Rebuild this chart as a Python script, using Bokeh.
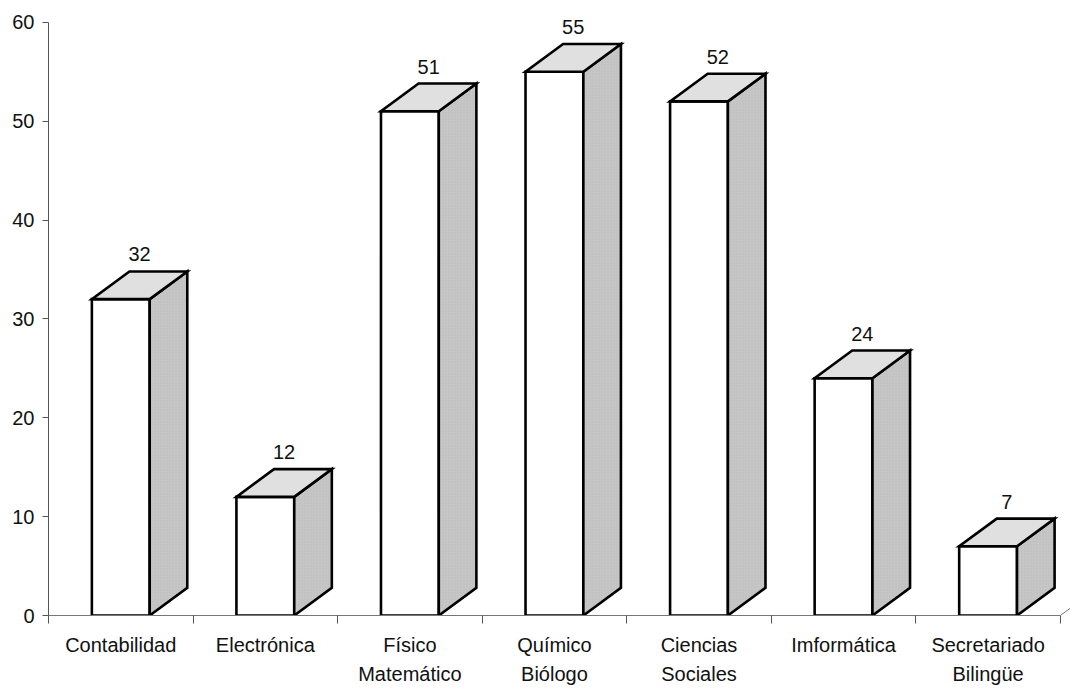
from bokeh.plotting import figure
from bokeh.models import Range1d, FixedTicker, ColumnDataSource
from bokeh.core.properties import value
from bokeh.embed import file_html
from bokeh.resources import INLINE

# ---- data ----
categories = ["Contabilidad", "Electrónica", "Físico\nMatemático", "Químico\nBiólogo",
              "Ciencias\nSociales", "Imformática", "Secretariado\nBilingüe"]
values = [32, 12, 51, 55, 52, 24, 7]
y_ticks = [0, 10, 20, 30, 40, 50, 60]

# ---- geometry (style) ----
bar_w = 0.40      # front face width (category units)
dx = 0.26         # depth offset in x (category units)
dy = 2.8          # depth offset in y (value units)

centers = [i + 0.5 for i in range(len(categories))]

front_xs, front_ys, top_xs, top_ys, side_xs, side_ys = [], [], [], [], [], []
for c, v in zip(centers, values):
    x0, x1 = c - bar_w / 2, c + bar_w / 2
    front_xs.append([x0, x1, x1, x0]); front_ys.append([0, 0, v, v])
    top_xs.append([x0, x1, x1 + dx, x0 + dx]); top_ys.append([v, v, v + dy, v + dy])
    side_xs.append([x1, x1 + dx, x1 + dx, x1]); side_ys.append([0, dy, v + dy, v])

FONT = "Liberation Sans"
FS = "20px"

p = figure(width=1070, height=690, output_backend="svg", toolbar_location=None,
           x_range=Range1d(0, 7.07), y_range=Range1d(0, 62),
           min_border_left=48, min_border_right=0, min_border_top=2, min_border_bottom=75)
p.outline_line_color = None
p.xgrid.visible = False
p.ygrid.visible = False
p.background_fill_color = "white"

# floor depth line at the right end
p.segment(x0=[len(categories)], y0=[0], x1=[len(categories) + dx], y1=[dy],
          line_color="#777777", line_width=1)

common = dict(line_color="black", line_width=2.6, line_join="miter")
p.patches(front_xs, front_ys, fill_color="white", **common)
p.patches(side_xs, side_ys, fill_color="#c6c6c6", hatch_pattern="dot", hatch_color="#b0b0b0",
          hatch_scale=3, hatch_alpha=0.5, **common)
p.patches(top_xs, top_ys, fill_color="#e0e0e0", **common)

src = ColumnDataSource(dict(x=[c + dx / 2 for c in centers], y=[v + dy for v in values],
                            t=[str(v) for v in values]))
p.text(x="x", y="y", text="t", source=src, text_align="center", text_baseline="bottom",
       y_offset=-10, text_font=value(FONT), text_font_size=FS, text_color="#111111")

# y axis
ya = p.yaxis[0]
ya.ticker = FixedTicker(ticks=y_ticks)
ya.bounds = (0, 60)
ya.major_tick_out = 6
ya.major_tick_in = 0
ya.minor_tick_out = 0
ya.major_label_standoff = 8
ya.axis_line_color = "#555555"
ya.major_tick_line_color = "#555555"
ya.major_label_text_font = FONT
ya.major_label_text_font_size = FS
ya.major_label_text_color = "#111111"

# x axis
xa = p.xaxis[0]
xa.ticker = FixedTicker(ticks=centers, minor_ticks=list(range(len(categories) + 1)))
xa.bounds = (0, len(categories))
xa.major_label_overrides = {c: lab for c, lab in zip(centers, categories)}
xa.major_tick_out = 0
xa.major_tick_in = 0
xa.minor_tick_out = 8
xa.minor_tick_in = 0
xa.major_label_standoff = 10
xa.axis_line_color = "#777777"
xa.minor_tick_line_color = "#555555"
xa.major_label_text_font = FONT
xa.major_label_text_font_size = FS
xa.major_label_text_color = "#111111"
xa.major_label_text_line_height = 1.35

open("out.html", "w").write(file_html(p, INLINE))
